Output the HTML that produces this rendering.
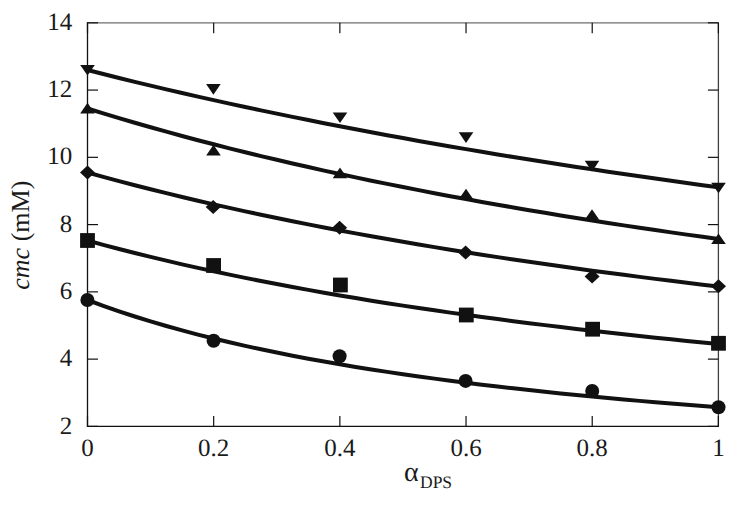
<!DOCTYPE html>
<html><head><meta charset="utf-8"><style>
html,body{margin:0;padding:0;background:#fff;}
svg{display:block;}
text{font-family:"Liberation Serif", serif;fill:#1a1a1a;text-rendering:geometricPrecision;}
</style></head><body>
<svg width="739" height="506" viewBox="0 0 739 506">
<rect x="0" y="0" width="739" height="506" fill="#fff"/>
<g fill="none">
<line x1="86.9" y1="22.8" x2="719.0" y2="22.8" stroke="#6e6e6e" stroke-width="1.3"/>
<line x1="718.4" y1="22.8" x2="718.4" y2="426.4" stroke="#404040" stroke-width="1.3"/>
<line x1="87.5" y1="22.2" x2="87.5" y2="427.0" stroke="#111" stroke-width="1.3"/>
<line x1="86.9" y1="426.4" x2="719.0" y2="426.4" stroke="#111" stroke-width="1.25"/>
</g>
<g stroke="#111" stroke-width="1.2" fill="none">
<line x1="87.5" y1="426.40" x2="98.0" y2="426.40"/>
<line x1="718.4" y1="426.40" x2="707.9" y2="426.40"/>
<line x1="87.5" y1="359.13" x2="98.0" y2="359.13"/>
<line x1="718.4" y1="359.13" x2="707.9" y2="359.13"/>
<line x1="87.5" y1="291.87" x2="98.0" y2="291.87"/>
<line x1="718.4" y1="291.87" x2="707.9" y2="291.87"/>
<line x1="87.5" y1="224.60" x2="98.0" y2="224.60"/>
<line x1="718.4" y1="224.60" x2="707.9" y2="224.60"/>
<line x1="87.5" y1="157.33" x2="98.0" y2="157.33"/>
<line x1="718.4" y1="157.33" x2="707.9" y2="157.33"/>
<line x1="87.5" y1="90.07" x2="98.0" y2="90.07"/>
<line x1="718.4" y1="90.07" x2="707.9" y2="90.07"/>
<line x1="87.5" y1="22.80" x2="98.0" y2="22.80"/>
<line x1="718.4" y1="22.80" x2="707.9" y2="22.80"/>
<line x1="87.50" y1="426.4" x2="87.50" y2="415.9"/>
<line x1="87.50" y1="22.8" x2="87.50" y2="33.3"/>
<line x1="213.68" y1="426.4" x2="213.68" y2="415.9"/>
<line x1="213.68" y1="22.8" x2="213.68" y2="33.3"/>
<line x1="339.86" y1="426.4" x2="339.86" y2="415.9"/>
<line x1="339.86" y1="22.8" x2="339.86" y2="33.3"/>
<line x1="466.04" y1="426.4" x2="466.04" y2="415.9"/>
<line x1="466.04" y1="22.8" x2="466.04" y2="33.3"/>
<line x1="592.22" y1="426.4" x2="592.22" y2="415.9"/>
<line x1="592.22" y1="22.8" x2="592.22" y2="33.3"/>
<line x1="718.40" y1="426.4" x2="718.40" y2="415.9"/>
<line x1="718.40" y1="22.8" x2="718.40" y2="33.3"/>
</g>
<g font-size="25">
<text transform="translate(72.2,433.50)" text-anchor="end">2</text>
<text transform="translate(72.2,366.23)" text-anchor="end">4</text>
<text transform="translate(72.2,298.97)" text-anchor="end">6</text>
<text transform="translate(72.2,231.70)" text-anchor="end">8</text>
<text transform="translate(72.2,164.43)" text-anchor="end">10</text>
<text transform="translate(72.2,97.17)" text-anchor="end">12</text>
<text transform="translate(72.2,29.90)" text-anchor="end">14</text>
<text transform="translate(87.50,455.8)" text-anchor="middle">0</text>
<text transform="translate(213.68,455.8)" text-anchor="middle">0.2</text>
<text transform="translate(339.86,455.8)" text-anchor="middle">0.4</text>
<text transform="translate(466.04,455.8)" text-anchor="middle">0.6</text>
<text transform="translate(592.22,455.8)" text-anchor="middle">0.8</text>
<text transform="translate(718.40,455.8)" text-anchor="middle">1</text>
</g>
<text transform="translate(28.7,235.2) rotate(-90)" text-anchor="middle" font-size="26"><tspan font-style="italic">cmc</tspan> (mM)</text>
<text x="404" y="481" font-size="28">α</text><text x="420" y="488" font-size="17.5">DPS</text>
<path d="M87.50,70.00 L103.27,74.02 L119.05,77.96 L134.82,81.83 L150.59,85.62 L166.36,89.35 L182.13,93.01 L197.91,96.60 L213.68,100.13 L229.45,103.60 L245.22,107.01 L261.00,110.36 L276.77,113.65 L292.54,116.88 L308.31,120.06 L324.09,123.19 L339.86,126.27 L355.63,129.29 L371.40,132.27 L387.18,135.19 L402.95,138.07 L418.72,140.91 L434.50,143.70 L450.27,146.44 L466.04,149.15 L481.81,151.81 L497.58,154.43 L513.36,157.01 L529.13,159.55 L544.90,162.05 L560.67,164.52 L576.45,166.95 L592.22,169.34 L607.99,171.70 L623.76,174.03 L639.54,176.32 L655.31,178.58 L671.08,180.80 L686.85,183.00 L702.63,185.16 L718.40,187.30" fill="none" stroke="#111" stroke-width="4.0" stroke-linejoin="round"/>
<path d="M87.50,108.50 L103.27,113.37 L119.05,118.12 L134.82,122.76 L150.59,127.28 L166.36,131.69 L182.13,135.99 L197.91,140.20 L213.68,144.30 L229.45,148.32 L245.22,152.24 L261.00,156.07 L276.77,159.82 L292.54,163.49 L308.31,167.07 L324.09,170.58 L339.86,174.02 L355.63,177.38 L371.40,180.67 L387.18,183.90 L402.95,187.06 L418.72,190.15 L434.50,193.19 L450.27,196.16 L466.04,199.08 L481.81,201.93 L497.58,204.74 L513.36,207.49 L529.13,210.19 L544.90,212.83 L560.67,215.43 L576.45,217.98 L592.22,220.49 L607.99,222.95 L623.76,225.36 L639.54,227.74 L655.31,230.07 L671.08,232.36 L686.85,234.61 L702.63,236.82 L718.40,239.00" fill="none" stroke="#111" stroke-width="4.0" stroke-linejoin="round"/>
<path d="M87.50,172.50 L103.27,176.86 L119.05,181.10 L134.82,185.23 L150.59,189.25 L166.36,193.17 L182.13,196.99 L197.91,200.71 L213.68,204.34 L229.45,207.88 L245.22,211.34 L261.00,214.71 L276.77,218.01 L292.54,221.22 L308.31,224.37 L324.09,227.44 L339.86,230.44 L355.63,233.37 L371.40,236.24 L387.18,239.05 L402.95,241.80 L418.72,244.49 L434.50,247.12 L450.27,249.70 L466.04,252.22 L481.81,254.69 L497.58,257.11 L513.36,259.48 L529.13,261.81 L544.90,264.09 L560.67,266.33 L576.45,268.52 L592.22,270.67 L607.99,272.78 L623.76,274.85 L639.54,276.88 L655.31,278.88 L671.08,280.83 L686.85,282.76 L702.63,284.65 L718.40,286.50" fill="none" stroke="#111" stroke-width="4.0" stroke-linejoin="round"/>
<path d="M87.50,240.50 L103.27,244.81 L119.05,248.97 L134.82,253.00 L150.59,256.90 L166.36,260.67 L182.13,264.33 L197.91,267.87 L213.68,271.30 L229.45,274.64 L245.22,277.87 L261.00,281.01 L276.77,284.06 L292.54,287.02 L308.31,289.90 L324.09,292.70 L339.86,295.43 L355.63,298.08 L371.40,300.66 L387.18,303.18 L402.95,305.63 L418.72,308.01 L434.50,310.34 L450.27,312.61 L466.04,314.83 L481.81,316.99 L497.58,319.10 L513.36,321.16 L529.13,323.17 L544.90,325.13 L560.67,327.05 L576.45,328.93 L592.22,330.77 L607.99,332.56 L623.76,334.32 L639.54,336.04 L655.31,337.72 L671.08,339.36 L686.85,340.98 L702.63,342.55 L718.40,344.10" fill="none" stroke="#111" stroke-width="4.0" stroke-linejoin="round"/>
<path d="M87.50,300.00 L103.27,305.83 L119.05,311.33 L134.82,316.51 L150.59,321.40 L166.36,326.03 L182.13,330.42 L197.91,334.59 L213.68,338.54 L229.45,342.31 L245.22,345.90 L261.00,349.32 L276.77,352.58 L292.54,355.71 L308.31,358.69 L324.09,361.55 L339.86,364.29 L355.63,366.92 L371.40,369.45 L387.18,371.87 L402.95,374.21 L418.72,376.45 L434.50,378.62 L450.27,380.70 L466.04,382.71 L481.81,384.65 L497.58,386.52 L513.36,388.33 L529.13,390.08 L544.90,391.78 L560.67,393.41 L576.45,395.00 L592.22,396.54 L607.99,398.03 L623.76,399.47 L639.54,400.87 L655.31,402.23 L671.08,403.56 L686.85,404.84 L702.63,406.09 L718.40,407.30" fill="none" stroke="#111" stroke-width="4.0" stroke-linejoin="round"/>
<polygon points="80.20,65.00 94.80,65.00 87.50,75.60" fill="#111"/>
<polygon points="206.10,84.10 220.70,84.10 213.40,94.70" fill="#111"/>
<polygon points="332.70,112.50 347.30,112.50 340.00,123.10" fill="#111"/>
<polygon points="458.70,132.30 473.30,132.30 466.00,142.90" fill="#111"/>
<polygon points="584.70,160.80 599.30,160.80 592.00,171.40" fill="#111"/>
<polygon points="711.20,182.70 725.80,182.70 718.50,193.30" fill="#111"/>
<polygon points="80.20,113.40 94.80,113.40 87.50,102.80" fill="#111"/>
<polygon points="206.20,155.40 220.80,155.40 213.50,144.80" fill="#111"/>
<polygon points="332.70,178.20 347.30,178.20 340.00,167.60" fill="#111"/>
<polygon points="458.70,199.30 473.30,199.30 466.00,188.70" fill="#111"/>
<polygon points="584.70,219.80 599.30,219.80 592.00,209.20" fill="#111"/>
<polygon points="711.20,244.10 725.80,244.10 718.50,233.50" fill="#111"/>
<polygon points="87.50,165.60 95.00,172.60 87.50,179.60 80.00,172.60" fill="#111"/>
<polygon points="213.20,200.00 220.70,207.00 213.20,214.00 205.70,207.00" fill="#111"/>
<polygon points="339.60,220.70 347.10,227.70 339.60,234.70 332.10,227.70" fill="#111"/>
<polygon points="465.60,245.60 473.10,252.60 465.60,259.60 458.10,252.60" fill="#111"/>
<polygon points="592.10,269.60 599.60,276.60 592.10,283.60 584.60,276.60" fill="#111"/>
<polygon points="718.50,279.30 726.00,286.30 718.50,293.30 711.00,286.30" fill="#111"/>
<rect x="80.10" y="233.10" width="14.8" height="14.8" fill="#111"/>
<rect x="206.20" y="258.10" width="14.8" height="14.8" fill="#111"/>
<rect x="333.00" y="277.60" width="14.8" height="14.8" fill="#111"/>
<rect x="458.90" y="307.60" width="14.8" height="14.8" fill="#111"/>
<rect x="585.20" y="321.80" width="14.8" height="14.8" fill="#111"/>
<rect x="711.10" y="335.90" width="14.8" height="14.8" fill="#111"/>
<circle cx="87.40" cy="300.00" r="7.0" fill="#111"/>
<circle cx="213.60" cy="340.70" r="7.0" fill="#111"/>
<circle cx="339.60" cy="356.30" r="7.0" fill="#111"/>
<circle cx="465.60" cy="380.90" r="7.0" fill="#111"/>
<circle cx="592.20" cy="391.00" r="7.0" fill="#111"/>
<circle cx="718.50" cy="407.30" r="7.0" fill="#111"/>
</svg>
</body></html>
